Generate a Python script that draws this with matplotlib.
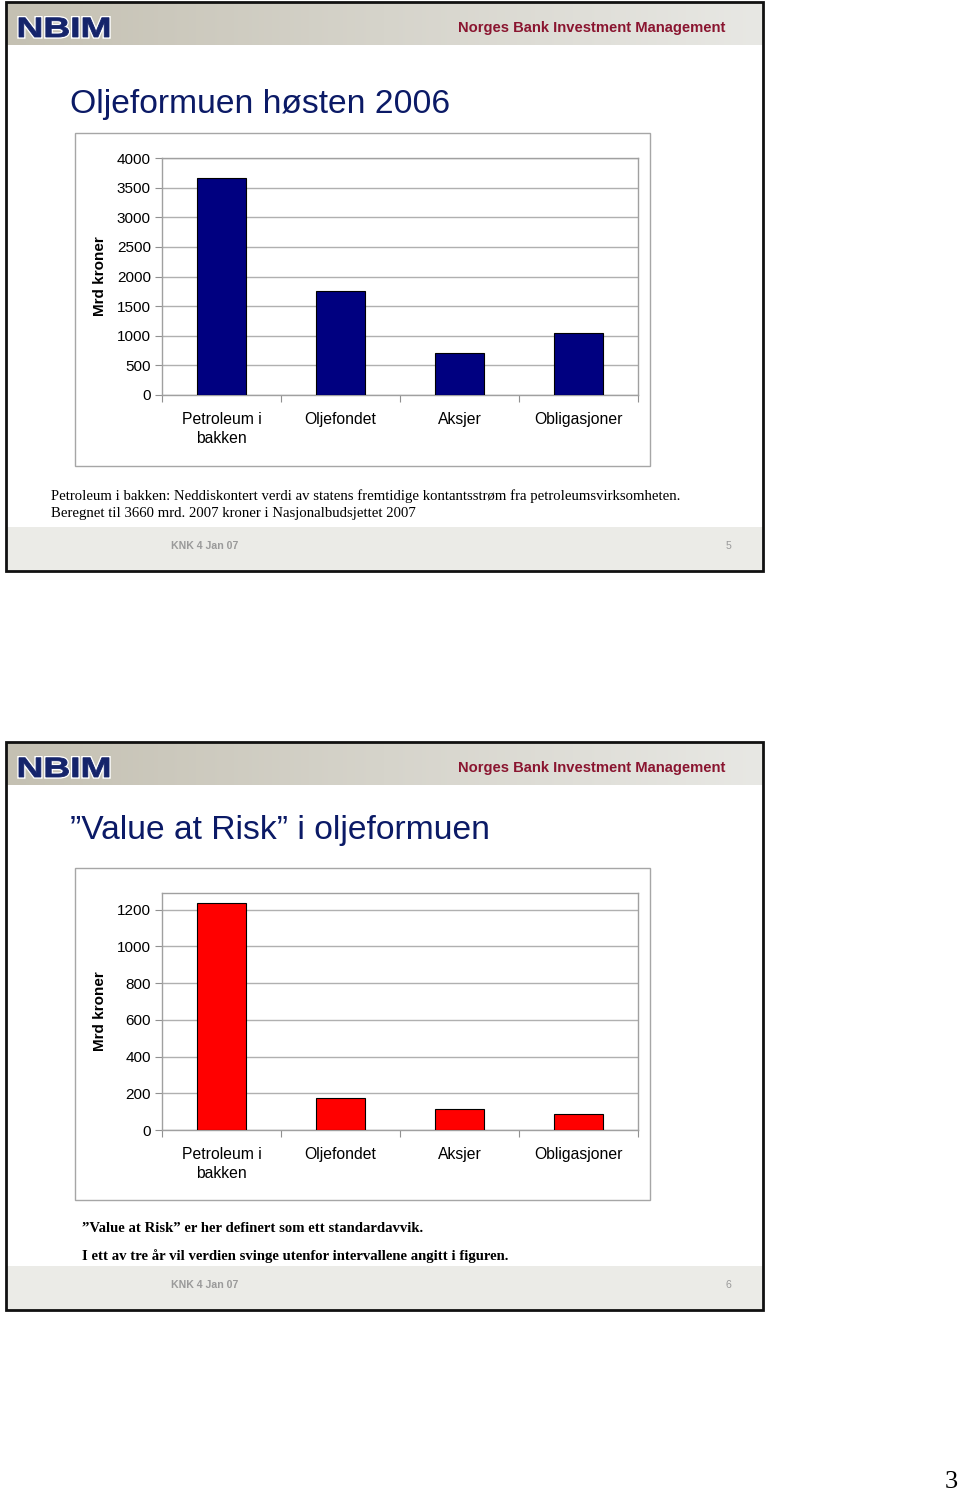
import numpy as np
import matplotlib
matplotlib.use('Agg')
import matplotlib.pyplot as plt
from matplotlib.patches import Rectangle, PathPatch
from matplotlib.textpath import TextPath
from matplotlib.font_manager import FontProperties
from matplotlib.transforms import Affine2D

# Data
categories = ['Petroleum i\nbakken', 'Oljefondet', 'Aksjer', 'Obligasjoner']
formue = [3660, 1750, 710, 1050]          # Mrd kroner
var_values = [1238, 173, 116, 89]         # Value at Risk, Mrd kroner
formue_ticks = [0, 500, 1000, 1500, 2000, 2500, 3000, 3500, 4000]
var_ticks = [0, 200, 400, 600, 800, 1000, 1200]

W, H = 960, 1494
SANS = 'Liberation Sans'
SERIF = 'Liberation Serif'
NAVY_TXT = '#0b1a66'
RED_TXT = '#8a1530'

fig = plt.figure(figsize=(W / 100, H / 100), dpi=100)
page = fig.add_axes([0, 0, 1, 1])
page.set_xlim(0, W)
page.set_ylim(H, 0)
page.axis('off')


def px_axes(x0, y0, x1, y1):
    # pixel box -> figure fraction axes
    return fig.add_axes([x0 / W, 1 - y1 / H, (x1 - x0) / W, (y1 - y0) / H])


def logo(x0, y_base):
    # wide bold "NBIM" drawn as a scaled text path
    tp = TextPath((0, 0), 'NBIM', size=28, prop=FontProperties(family=SANS, weight='bold'))
    ext = tp.get_extents()
    sx = 90 / ext.width
    tr = Affine2D().translate(-ext.x0, 0).scale(sx, -1).translate(x0, y_base)
    p = tr.transform_path(tp)
    page.add_patch(PathPatch(p, facecolor='white', edgecolor='white', lw=2.5, zorder=3))
    page.add_patch(PathPatch(p, facecolor='#15246b', edgecolor='#15246b', lw=0.6, zorder=4))


def slide(y0, y1, title, title_y, footer_num):
    # header band with grey gradient
    grad = np.linspace(0, 1, 256)
    left = np.array([196, 192, 178]) / 255
    right = np.array([232, 232, 228]) / 255
    band = left[None, :] * (1 - grad[:, None]) + right[None, :] * grad[:, None]
    band = np.clip(band, 0, 1)[None, :, :]
    page.imshow(band, extent=[6, 763, y0 + 43, y0 + 1], aspect='auto', zorder=1)
    # footer band
    page.add_patch(Rectangle((6, y1 - 44), 757, 44, facecolor='#ebebe7',
                             edgecolor='none', zorder=1))
    # slide frame
    page.add_patch(Rectangle((6, y0), 757, y1 - y0, facecolor='none',
                             edgecolor='#111111', lw=2, zorder=5))
    logo(19, y0 + 35)
    page.text(725, y0 + 26, 'Norges Bank Investment Management', family=SANS,
              weight='bold', fontsize=10.6, color=RED_TXT, va='center',
              ha='right', zorder=3)
    page.text(70, title_y, title, family=SANS, fontsize=24.2, color=NAVY_TXT,
              va='center', ha='left', zorder=3)
    page.text(171, y1 - 25, 'KNK 4 Jan 07', family=SANS, weight='bold',
              fontsize=7.6, color='#9a9a9a', va='center', ha='left', zorder=3)
    page.text(731, y1 - 25, footer_num, family=SANS, fontsize=7.6,
              color='#9a9a9a', va='center', ha='right', zorder=3)


def bar_chart(box_top, plot_top, plot_bot, box_bot, values, ticks, ymax, color):
    page.add_patch(Rectangle((75, box_top), 575, box_bot - box_top,
                             facecolor='white', edgecolor='#a6a6a6', lw=1, zorder=2))
    ax = px_axes(162, plot_top, 638, plot_bot)
    x = np.arange(len(values))
    ax.bar(x, values, width=0.41, color=color, edgecolor='black', lw=0.8, zorder=3)
    ax.set_xlim(-0.5, len(values) - 0.5)
    ax.set_ylim(0, ymax)
    ax.set_yticks(ticks)
    ax.set_yticklabels([str(t) for t in ticks], family=SANS, fontsize=11)
    ax.yaxis.grid(True, color='#b0b0b0', lw=1)
    ax.set_axisbelow(True)
    ax.set_xticks(np.arange(len(values) + 1) - 0.5)
    ax.set_xticklabels([])
    ax.set_xticks(x, minor=True)
    ax.set_xticklabels(categories, minor=True, family=SANS, fontsize=11.3,
                       linespacing=1.33, va='top')
    ax.tick_params(axis='x', which='minor', length=0, pad=12)
    ax.tick_params(axis='x', which='major', length=5, color='#909090')
    ax.tick_params(axis='y', length=5, color='#909090', pad=3)
    for s in ax.spines.values():
        s.set_color('#a0a0a0')
        s.set_linewidth(1)
    ax.set_ylabel('Mrd kroner', family=SANS, weight='bold', fontsize=11)
    ax.yaxis.set_label_coords(-0.115, 0.5)
    return ax


# Slide 5
slide(2, 571, 'Oljeformuen høsten 2006', 104, '5')
bar_chart(133, 158, 395, 466, formue, formue_ticks, 4000, '#000080')
page.text(51, 496, 'Petroleum i bakken: Neddiskontert verdi av statens fremtidige '
          'kontantsstrøm fra petroleumsvirksomheten.', family=SERIF, fontsize=10.6,
          va='center', ha='left', zorder=3)
page.text(51, 514, 'Beregnet til 3660 mrd. 2007 kroner i Nasjonalbudsjettet 2007',
          family=SERIF, fontsize=10.6, va='center', ha='left', zorder=3)

# Slide 6
slide(742, 1310, '\u201dValue at Risk\u201d i oljeformuen', 831, '6')
bar_chart(868, 893, 1130, 1200, var_values, var_ticks, 1290, '#ff0000')
page.text(82, 1229, '\u201dValue at Risk\u201d er her definert som ett standardavvik.',
          family=SERIF, weight='bold', fontsize=10.6, va='center', ha='left', zorder=3)
page.text(82, 1256, 'I ett av tre år vil verdien svinge utenfor intervallene angitt i figuren.',
          family=SERIF, weight='bold', fontsize=10.6, va='center', ha='left', zorder=3)

page.text(958, 1482, '3', family=SERIF, fontsize=19, va='center', ha='right')

fig.savefig('out.png', dpi=100)
